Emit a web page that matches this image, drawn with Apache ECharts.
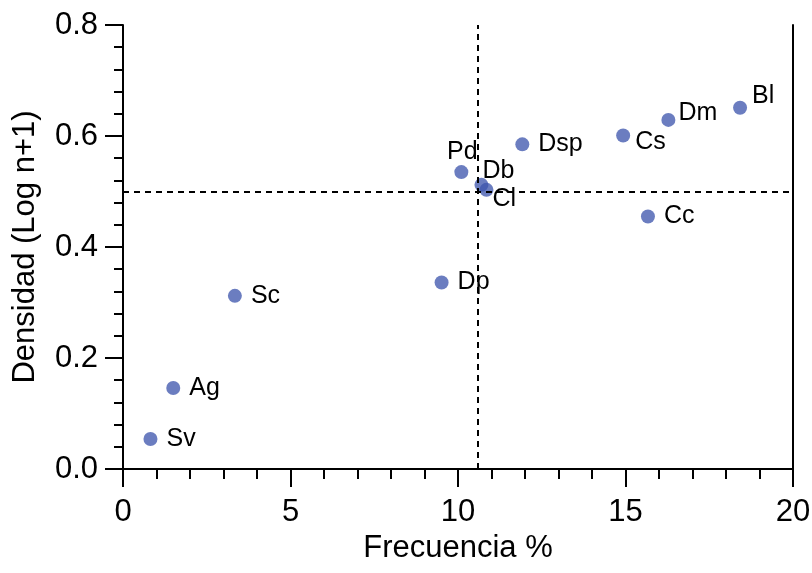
<!DOCTYPE html>
<html>
<head>
<meta charset="utf-8">
<script src="https://cdn.jsdelivr.net/npm/echarts@6/dist/echarts.min.js"></script>
<style>
	html,body{margin:0;padding:0;background:#fff;}
	#chart{width:812px;height:573px;}
</style>
</head>
<body>
<div id="chart"></div>
<script>
	// especies y sus valores (frecuencia %, densidad log n+1)
	var especies = ['Bl','Dm','Cs','Dsp','Pd','Db','Cl','Cc','Dp','Sc','Ag','Sv'];
	var frecuencia = [18.42, 16.28, 14.93, 11.92, 10.10, 10.70, 10.85, 15.67, 9.51, 3.34, 1.50, 0.82];
	var densidad = [0.651, 0.629, 0.601, 0.585, 0.535, 0.512, 0.503, 0.455, 0.336, 0.312, 0.146, 0.054];
	// lineas de corte (medias)
	var corteX = 10.58;
	var corteY = 0.5;

	// desplazamiento de etiquetas (solo estilo)
	var etiquetaPos = {
		Bl:{position:'right',offset:[-4,-12]},
		Dm:{position:'right',offset:[-6,-7]},
		Cs:{position:'right',offset:[-4,7]},
		Pd:{position:'top',offset:[1,9]},
		Db:{position:'right',offset:[-15,-14]},
		Cl:{position:'right',offset:[-10,9]}
	};

	var font = 'Liberation Sans, Arial, sans-serif';
	var chart = echarts.init(document.getElementById('chart'));

	var puntos = especies.map(function(n,i){
		var item = {name:n, value:[frecuencia[i], densidad[i]]};
		if(etiquetaPos[n]){
			item.label = etiquetaPos[n];
		}
		return item;
	});

	var option = {
		animation:false,
		grid:{left:123,right:19,top:25,bottom:104,containLabel:false,outerBoundsMode:'none'},
		xAxis:{
			type:'value',
			min:0,max:20,interval:5,
			name:'Frecuencia %',
			nameLocation:'middle',
			nameGap:63,
			nameTextStyle:{fontFamily:font,fontSize:31,color:'#000'},
			axisLine:{show:true,onZero:false,lineStyle:{color:'#000',width:2}},
			axisTick:{show:true,length:18,lineStyle:{color:'#000',width:2}},
			minorTick:{show:true,splitNumber:5,length:10,lineStyle:{color:'#000',width:2}},
			axisLabel:{fontFamily:font,fontSize:31,color:'#000',margin:28},
			splitLine:{show:false}
		},
		yAxis:[{
			type:'value',
			min:0,max:0.8,interval:0.2,
			name:'Densidad (Log n+1)',
			nameLocation:'middle',
			nameGap:82,
			nameTextStyle:{fontFamily:font,fontSize:31,color:'#000'},
			axisLine:{show:true,onZero:false,lineStyle:{color:'#000',width:2}},
			axisTick:{show:true,length:18,lineStyle:{color:'#000',width:2}},
			minorTick:{show:true,splitNumber:5,length:9,lineStyle:{color:'#000',width:2}},
			axisLabel:{fontFamily:font,fontSize:31,color:'#000',margin:25,
				formatter:function(v){return v.toFixed(1);}},
			splitLine:{show:false}
		},{
			type:'value',
			position:'right',
			min:0,max:0.8,
			axisLine:{show:true,onZero:false,lineStyle:{color:'#000',width:2}},
			axisTick:{show:false},
			axisLabel:{show:false},
			splitLine:{show:false}
		}],
		series:[{
			type:'scatter',
			symbolSize:14,
			itemStyle:{color:'rgba(60,84,172,0.76)',opacity:1},
			label:{
				show:true,
				position:'right',
				distance:9,
				formatter:'{b}',
				fontFamily:font,
				fontSize:25,
				color:'#000',
				opacity:1
			},
			data:puntos,
			markLine:{
				silent:true,
				symbol:'none',
				label:{show:false},
				lineStyle:{color:'#000',type:[6,5],width:2,opacity:1},
				data:[
					{xAxis:corteX},
					{yAxis:corteY}
				]
			}
		}]
	};

	chart.setOption(option);
</script>
</body>
</html>
